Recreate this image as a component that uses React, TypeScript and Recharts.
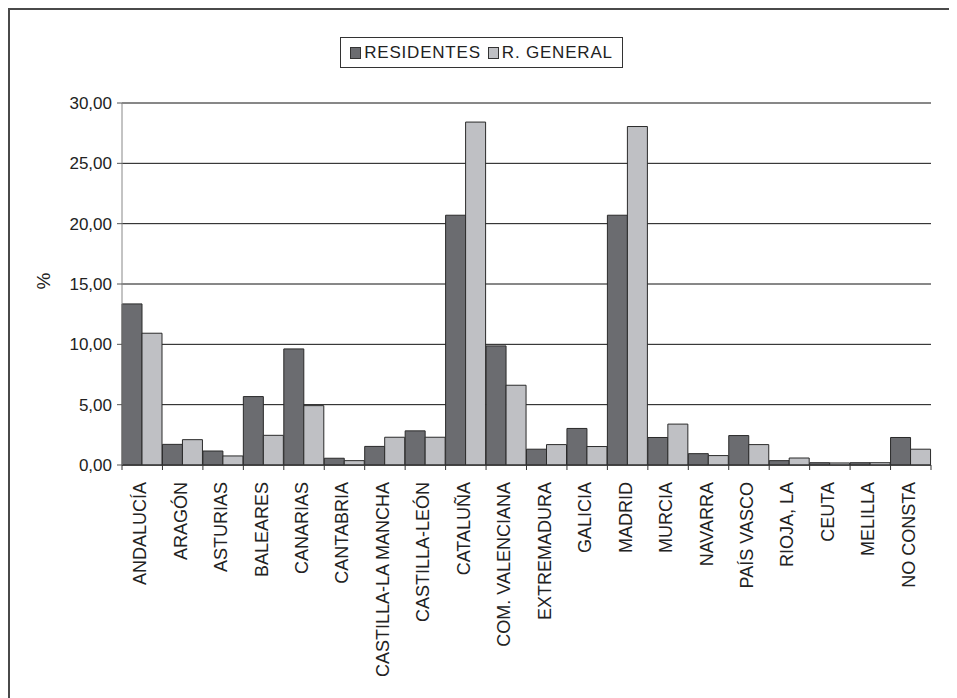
import React from 'react';
import { BarChart, Bar, XAxis, YAxis, CartesianGrid } from 'recharts';

const regions = [
  'ANDALUCÍA', 'ARAGÓN', 'ASTURIAS', 'BALEARES', 'CANARIAS', 'CANTABRIA',
  'CASTILLA-LA MANCHA', 'CASTILLA-LEÓN', 'CATALUÑA', 'COM. VALENCIANA',
  'EXTREMADURA', 'GALICIA', 'MADRID', 'MURCIA', 'NAVARRA', 'PAÍS VASCO',
  'RIOJA, LA', 'CEUTA', 'MELILLA', 'NO CONSTA',
];
const residentes = [
  13.35, 1.71, 1.16, 5.67, 9.62, 0.56, 1.54, 2.83, 20.7, 9.87,
  1.31, 3.03, 20.7, 2.28, 0.94, 2.44, 0.36, 0.19, 0.19, 2.28,
];
const rGeneral = [
  10.92, 2.1, 0.75, 2.46, 4.92, 0.36, 2.3, 2.3, 28.42, 6.61,
  1.69, 1.53, 28.05, 3.39, 0.78, 1.69, 0.58, 0.17, 0.19, 1.31,
];
const yTicks = [0, 5, 10, 15, 20, 25, 30];

const data = regions.map((name, i) => ({ name, residentes: residentes[i], general: rGeneral[i] }));

const FONT = '"Liberation Sans", Arial, sans-serif';
const DARK = '#6b6c70';
const LIGHT = '#bfc0c4';

const W = 940;
const H = 680;
const margin = { top: 95, right: 17, left: 54, bottom: 73 };
const Y_W = 60;
const plotW = W - margin.left - margin.right - Y_W;
const band = plotW / regions.length;

// category label in the middle of the band, tick marks on the band edges
const RegionTick = (props: any) => {
  const { x, y, payload, index } = props;
  const last = index === regions.length - 1;
  return (
    <g transform={`translate(${x},${y})`}>
      <line x1={-band / 2} x2={-band / 2} y1={0} y2={5} stroke="#333" />
      {last ? <line x1={band / 2} x2={band / 2} y1={0} y2={5} stroke="#333" /> : null}
      <text
        transform="rotate(-90)"
        x={-17}
        y={4}
        textAnchor="end"
        fill="#222"
        fontSize={18}
        fontFamily={FONT}
      >
        {payload.value}
      </text>
    </g>
  );
};

const PercentLabel = (props: any) => {
  const { viewBox } = props;
  const cx = viewBox.x - 19;
  const cy = viewBox.y + viewBox.height / 2 - 3;
  return (
    <text
      x={cx}
      y={cy}
      transform={`rotate(-90, ${cx}, ${cy})`}
      textAnchor="middle"
      dominantBaseline="central"
      fontSize={19}
      fontFamily={FONT}
      fill="#222"
    >
      %
    </text>
  );
};

const swatch = (color: string) => (
  <span
    style={{
      display: 'inline-block',
      width: 9,
      height: 10,
      background: color,
      border: '1px solid #333',
      marginRight: 3,
    }}
  />
);

export default function App() {
  return (
    <div style={{ position: 'relative', width: 949, height: 690, fontFamily: FONT }}>
      <div
        style={{
          position: 'absolute',
          left: 0,
          top: 0,
          right: 0,
          bottom: 0,
          borderTop: '2px solid #4a4a4a',
          borderLeft: '2px solid #4a4a4a',
        }}
      />
      <div style={{ position: 'absolute', left: 0, top: 0 }}>
        <BarChart width={W} height={H} data={data} margin={margin} barCategoryGap={0} barGap={0}>
          <CartesianGrid vertical={false} stroke="#111" />
          <XAxis
            dataKey="name"
            interval={0}
            height={150}
            tickSize={0}
            tickMargin={0}
            tickLine={false}
            axisLine={{ stroke: '#333' }}
            tick={<RegionTick />}
          />
          <YAxis
            width={Y_W}
            domain={[0, 30]}
            ticks={yTicks}
            tickFormatter={(v: number) => v.toFixed(2).replace('.', ',')}
            tick={{ fill: '#222', fontSize: 17, fontFamily: FONT }}
            tickSize={5}
            tickMargin={5}
            tickLine={{ stroke: '#555' }}
            axisLine={{ stroke: '#888' }}
            label={{ content: <PercentLabel /> }}
          />
          <YAxis
            yAxisId="right"
            orientation="right"
            width={0}
            domain={[0, 30]}
            tick={false}
            tickLine={false}
            axisLine={{ stroke: '#222' }}
          />
          <Bar dataKey="residentes" fill={DARK} stroke="#2a2a2a" strokeWidth={1} isAnimationActive={false} />
          <Bar dataKey="general" fill={LIGHT} stroke="#2a2a2a" strokeWidth={1} isAnimationActive={false} />
        </BarChart>
      </div>
      <div
        style={{
          position: 'absolute',
          left: 332,
          top: 29,
          width: 281,
          height: 29,
          border: '1px solid #333',
          display: 'flex',
          alignItems: 'center',
          justifyContent: 'center',
          fontSize: 17,
          letterSpacing: 0.8,
          color: '#222',
          background: '#fff',
        }}
      >
        {swatch(DARK)}
        <span style={{ marginRight: 7 }}>RESIDENTES</span>
        {swatch(LIGHT)}
        <span>R. GENERAL</span>
      </div>
    </div>
  );
}
